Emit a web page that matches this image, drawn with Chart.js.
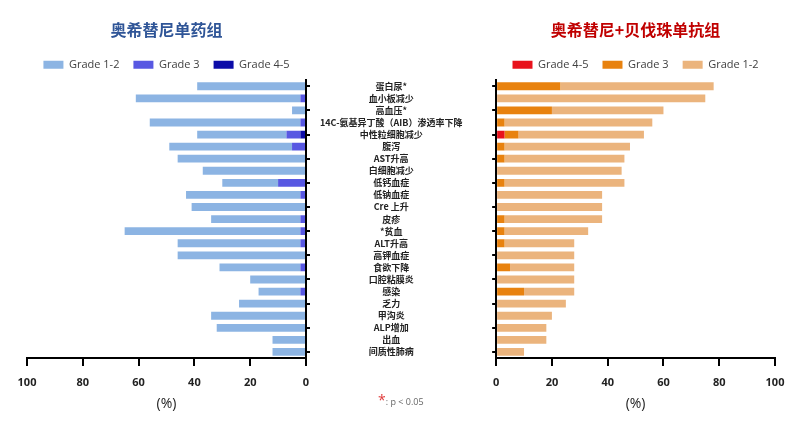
<!DOCTYPE html>
<html>
<head>
<meta charset="utf-8">
<script src="https://cdn.jsdelivr.net/npm/chart.js"></script>
<style>
  body { margin: 0; background: #fff; width: 807px; height: 424px; overflow: hidden; position: relative; }
  canvas { position: absolute; top: 0; }
  #left { left: 0; }
  #right { left: 483px; }
  #note { position: absolute; left: 378px; top: 390px; font: 9px "Open Sans", sans-serif; color: #666; }
  #note b { color: #e03a3a; font-size: 14px; font-weight: normal; }
</style>
</head>
<body>
<canvas id="left" width="492" height="424"></canvas>
<canvas id="right" width="324" height="424"></canvas>
<div id="note"><b>*</b>: p &lt; 0.05</div>
<script>
  const categories = ['蛋白尿*', '血小板减少', '高血压*', '14C-氨基异丁酸（AIB）渗透率下降', '中性粒细胞减少', '腹泻',
    'AST升高', '白细胞减少', '低钙血症', '低钠血症', 'Cre 上升', '皮疹', '*贫血', 'ALT升高', '高钾血症', '食欲下降',
    '口腔粘膜炎', '感染', '乏力', '甲沟炎', 'ALP增加', '出血', '间质性肺病'];

  // 奥希替尼单药组 (%)
  const monoG12 = [39, 59, 5, 54, 32, 44, 46, 37, 20, 41, 41, 32, 63, 44, 46, 29, 20, 15, 24, 34, 32, 12, 12];
  const monoG3  = [0, 2, 0, 2, 5, 5, 0, 0, 10, 2, 0, 2, 2, 2, 0, 2, 0, 2, 0, 0, 0, 0, 0];
  const monoG45 = [0, 0, 0, 0, 2, 0, 0, 0, 0, 0, 0, 0, 0, 0, 0, 0, 0, 0, 0, 0, 0, 0, 0];

  // 奥希替尼+贝伐珠单抗组 (%)
  const comboG12 = [55, 75, 40, 53, 45, 45, 43, 45, 43, 38, 38, 35, 30, 25, 28, 23, 28, 18, 25, 20, 18, 18, 10];
  const comboG3  = [23, 0, 20, 3, 5, 3, 3, 0, 3, 0, 0, 3, 3, 3, 0, 5, 0, 10, 0, 0, 0, 0, 0];
  const comboG45 = [0, 0, 0, 0, 3, 0, 0, 0, 0, 0, 0, 0, 0, 0, 0, 0, 0, 0, 0, 0, 0, 0, 0];

  const xTicks = [0, 20, 40, 60, 80, 100];

  const tickFont = { family: '"Open Sans", sans-serif', size: 11, weight: 'bold' };

  function xScale(reverse) {
    return {
      type: 'linear', min: 0, max: 100, reverse, stacked: true,
      afterBuildTicks: s => { s.ticks = xTicks.map(v => ({ value: v })); },
      ticks: { padding: 10, color: '#222', font: tickFont, maxRotation: 0 },
      grid: { drawOnChartArea: false, drawTicks: true, tickLength: 8, lineWidth: 2, color: '#000' },
      border: { display: true, width: 2, color: '#000' },
      title: { display: true, text: '(%)', color: '#222', font: { family: '"Open Sans", sans-serif', size: 14 }, padding: { top: 0, bottom: 12 } },
      afterFit: s => { s.height = 66; }
    };
  }

  function yScale(position, showLabels) {
    const y = {
      position, offset: true, stacked: true,
      grid: {
        offset: false, drawOnChartArea: false, drawTicks: true, tickLength: 4, lineWidth: 2,
        color: c => c.index % 2 === 0 ? '#000' : 'rgba(0,0,0,0)'
      },
      border: { display: true, width: 2, color: '#000' },
      ticks: {
        display: showLabels, autoSkip: false, crossAlign: 'center', padding: 10, color: '#222',
        font: { family: '"Noto Sans CJK SC", sans-serif', size: 9, weight: 'bold' }
      }
    };
    if (showLabels) y.afterFit = s => { s.width = 186; };
    return y;
  }

  function makeChart(id, opts) {
    return new Chart(document.getElementById(id), {
      type: 'bar',
      data: {
        labels: categories,
        datasets: opts.sets.map(d => ({
          label: d.label, data: d.data, backgroundColor: d.color,
          barPercentage: 0.9, categoryPercentage: 0.72, borderWidth: 0
        }))
      },
      options: {
        responsive: false, animation: false, indexAxis: 'y',
        layout: { padding: opts.padding },
        scales: { x: xScale(opts.reverse), y: yScale(opts.yPos, opts.labels) },
        plugins: {
          tooltip: { enabled: false },
          title: {
            display: true, text: opts.title, color: opts.titleColor, fullSize: false,
            font: { family: '"Noto Sans CJK SC", sans-serif', size: 16, weight: 'bold' },
            padding: { top: 20, bottom: 6 }
          },
          legend: {
            position: 'top', fullSize: false, reverse: opts.reverse,
            labels: { boxWidth: 20, boxHeight: 8, padding: 14, color: '#404040', font: { family: '"Open Sans", sans-serif', size: 11 } }
          }
        }
      }
    });
  }

  makeChart('left', {
    title: '奥希替尼单药组', titleColor: '#2f5597', reverse: true, yPos: 'right', labels: true,
    padding: { left: 27, right: 0, top: 0, bottom: 0 },
    sets: [
      { label: 'Grade 4-5', data: monoG45, color: '#0c0ca8' },
      { label: 'Grade 3', data: monoG3, color: '#5858e2' },
      { label: 'Grade 1-2', data: monoG12, color: '#8cb4e3' }
    ]
  });

  makeChart('right', {
    title: '奥希替尼+贝伐珠单抗组', titleColor: '#c00000', reverse: false, yPos: 'left', labels: false,
    padding: { left: 5, right: 32, top: 0, bottom: 0 },
    sets: [
      { label: 'Grade 4-5', data: comboG45, color: '#e8121c' },
      { label: 'Grade 3', data: comboG3, color: '#e8820f' },
      { label: 'Grade 1-2', data: comboG12, color: '#ebb47d' }
    ]
  });
</script>
</body>
</html>
